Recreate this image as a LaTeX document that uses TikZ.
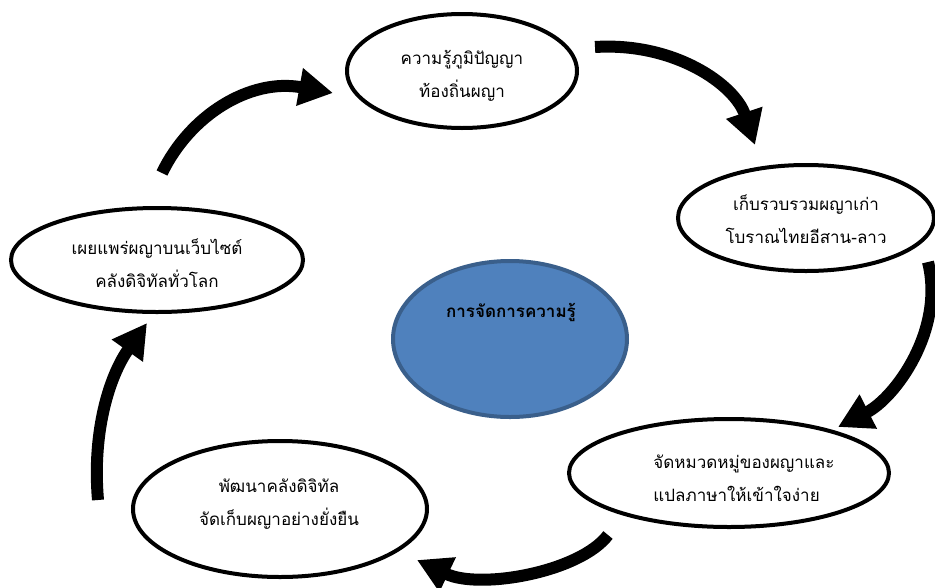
\documentclass[tikz,border=0pt]{standalone}
\usepackage{fontspec}
\newfontfamily\thaifont[Script=Thai]{Loma}
\usetikzlibrary{shapes.geometric,arrows.meta}
\definecolor{kmblue}{HTML}{4F81BD}
\definecolor{kmborder}{HTML}{3A5F8B}
\begin{document}
\begin{tikzpicture}[x=1pt,y=-1pt,
  ell/.style={draw=black, line width=4pt, ellipse, fill=white, inner sep=0pt},
  lbl/.style={font=\thaifont\fontsize{17}{33}\selectfont, align=center, inner sep=0pt},
  flow/.style={line width=12pt, -{Triangle[length=34pt,width=36pt]}},
]
\useasboundingbox (0,0) rectangle (935,587);
% ellipses
\node[ell, minimum width=230pt, minimum height=114pt] (e1) at (462,71) {};
\node[ell, minimum width=256pt, minimum height=106pt] (e2) at (806,218) {};
\node[ell, minimum width=292pt, minimum height=104pt] (e3) at (157,260) {};
\node[ell, minimum width=320pt, minimum height=108pt] (e5) at (729,473) {};
\node[ell, minimum width=294pt, minimum height=136pt] (e6) at (280,509) {};
\node[ellipse, draw=kmborder, fill=kmblue, line width=4pt, inner sep=0pt,
      minimum width=234pt, minimum height=156pt] (ec) at (510,339) {};
% texts
\node[lbl] (t1) at (462,76) {ความรู้ภูมิปัญญา\\ท้องถิ่นผญา};
\node[lbl] (t2) at (806,219) {เก็บรวบรวมผญาเก่า\\โบราณไทยอีสาน-ลาว};
\node[lbl] (t3) at (157,263) {เผยแพร่ผญาบนเว็บไซต์\\คลังดิจิทัลทั่วโลก};
\node[lbl, align=left] (t5) at (744,478) {จัดหมวดหมู่ของผญาและ\\แปลภาษาให้เข้าใจง่าย};
\node[lbl] (t6) at (279,504) {พัฒนาคลังดิจิทัล\\จัดเก็บผญาอย่างยั่งยืน};
\node[lbl, font=\thaifont\bfseries\fontsize{17}{33}\selectfont] (tc) at (511,312) {การจัดการความรู้};
% arrow end points
\coordinate (a1s) at (595,47);  \coordinate (a1e) at (755,145);
\coordinate (a2s) at (928,262); \coordinate (a2e) at (838,427);
\coordinate (a3s) at (608,535); \coordinate (a3e) at (417,560);
\coordinate (a4s) at (98,500);  \coordinate (a4e) at (147,323);
\coordinate (a5s) at (162,173); \coordinate (a5e) at (333,93);
% arrows
\draw[flow] (a1s) .. controls (675,42) and (735,85) .. (a1e);
\draw[flow] (a2s) .. controls (945,330) and (895,398) .. (a2e);
\draw[flow] (a3s) .. controls (580,572) and (480,590) .. (a3e);
\draw[flow] (a4s) .. controls (92,430) and (110,375) .. (a4e);
\draw[flow] (a5s) .. controls (190,115) and (250,78) .. (a5e);
\end{tikzpicture}
\end{document}
